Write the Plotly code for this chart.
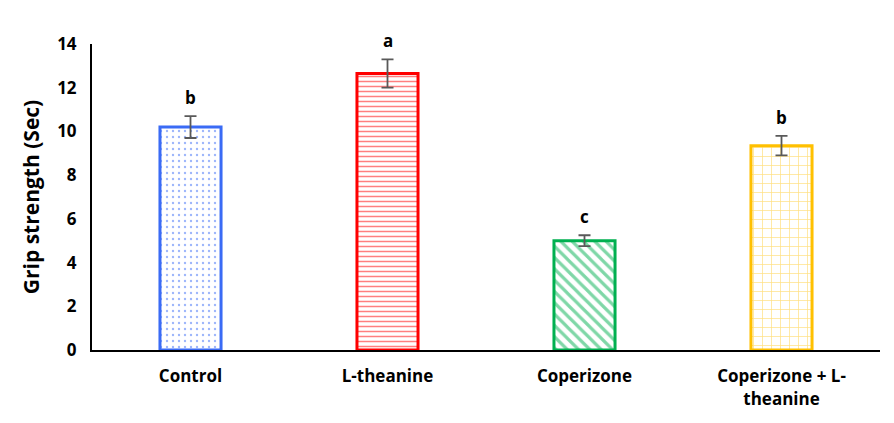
import plotly.graph_objects as go

categories = ["Control", "L-theanine", "Coperizone", "Coperizone + L-<br>theanine"]
values = [10.2, 12.65, 5.0, 9.35]
errors = [0.5, 0.65, 0.25, 0.45]
letters = ["b", "a", "c", "b"]
colors = ["#3A6BF5", "#FF0000", "#00B050", "#FFC000"]
patterns = [".", "-", "\\", "+"]
y_ticks = [0, 2, 4, 6, 8, 10, 12, 14]

FONT = "Open Sans"

fig = go.Figure()
fig.add_trace(go.Bar(
    x=categories,
    y=values,
    width=0.31,
    marker=dict(
        color="white",
        line=dict(color=colors, width=3),
        pattern=dict(shape=patterns, fgcolor=colors, bgcolor="white",
                     size=[6, 5, 8, 9], solidity=[0.12, 0.3, 0.4, 0.15],
                     fillmode="overlay"),
    ),
    error_y=dict(type="data", array=errors, color="#595959", thickness=1.8, width=6),
    showlegend=False,
))

for c, v, e, t in zip(categories, values, errors, letters):
    fig.add_annotation(x=c, y=v + e, text=t, showarrow=False, yanchor="bottom",
                       yshift=5, font=dict(family=FONT, size=17, color="black", weight="bold"))

# page body has an 8px margin, so the figure is 8px smaller and margins shifted
fig.update_layout(
    width=886, height=415,
    margin=dict(l=84, r=14, t=36, b=73, autoexpand=False),
    paper_bgcolor="white", plot_bgcolor="white",
    font=dict(family=FONT, color="black"),
)
fig.update_xaxes(
    showline=True, linecolor="black", linewidth=2, ticks="",
    tickfont=dict(family=FONT, size=17, color="black", weight="bold"),
    showgrid=False, ticklabelstandoff=10, automargin=False,
)
fig.update_yaxes(
    range=[0, 14], tickvals=y_ticks, showline=True, linecolor="black", linewidth=2,
    ticks="", showgrid=False, zeroline=False, ticklabelstandoff=10, automargin=False,
    tickfont=dict(family=FONT, size=17, color="black", weight="bold"),
    title=dict(text="Grip strength (Sec)", font=dict(family=FONT, size=21, color="black", weight="bold"), standoff=12),
)

fig.write_html("out.html")
